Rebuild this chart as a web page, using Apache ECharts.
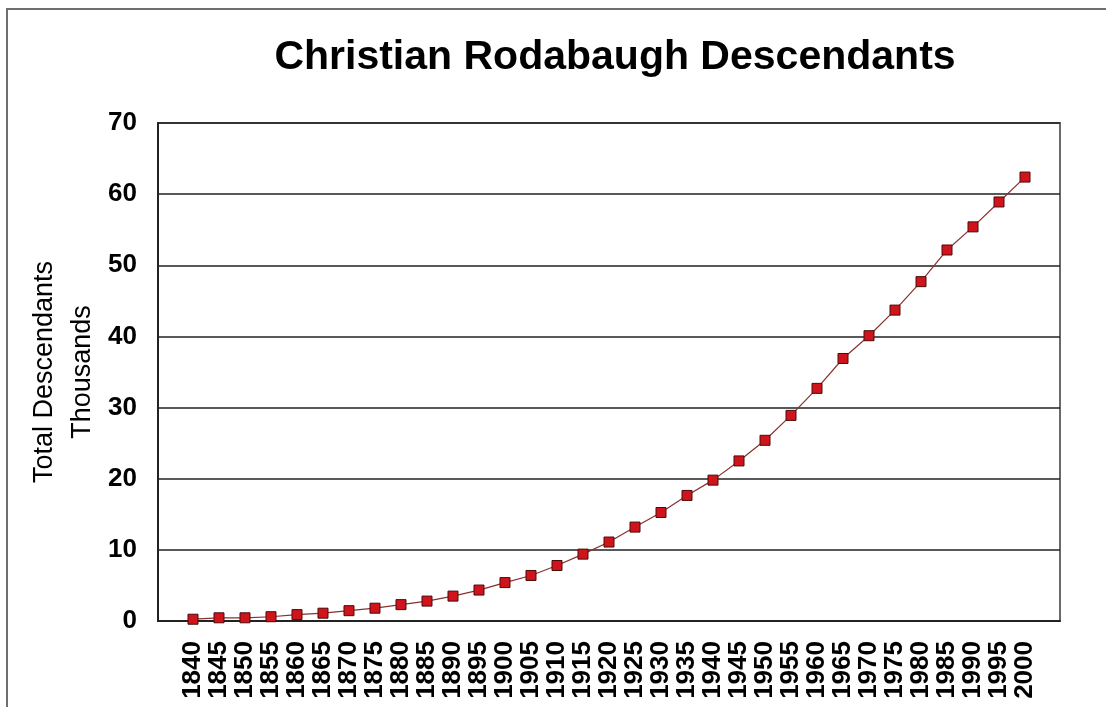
<!DOCTYPE html>
<html>
<head>
<meta charset="utf-8">
<script src="https://cdn.jsdelivr.net/npm/echarts@6/dist/echarts.min.js"></script>
<style>
  html, body { margin: 0; padding: 0; background: #fff; }
  #main { width: 1106px; height: 707px; }
</style>
</head>
<body>
<div id="main"></div>
<script>
window.addEventListener('load', () => {
    main()
})

// years on the x axis, 1840 to 2000 every 5 years
const years = [
    1840, 1845, 1850, 1855, 1860, 1865, 1870, 1875, 1880, 1885, 1890,
    1895, 1900, 1905, 1910, 1915, 1920, 1925, 1930, 1935, 1940, 1945,
    1950, 1955, 1960, 1965, 1970, 1975, 1980, 1985, 1990, 1995, 2000
]

// total descendants, in thousands
const totals = [
    0.25, 0.45, 0.45, 0.6, 0.9, 1.1, 1.45, 1.8, 2.3, 2.8, 3.5,
    4.35, 5.4, 6.4, 7.8, 9.4, 11.1, 13.2, 15.25, 17.65, 19.8, 22.5,
    25.4, 28.9, 32.7, 36.9, 40.1, 43.7, 47.7, 52.15, 55.4, 58.9, 62.4
]

const yTicks = [0, 10, 20, 30, 40, 50, 60, 70]

const FONT = '"Liberation Sans", Arial, sans-serif'

function main() {
    const chart = echarts.init(document.getElementById('main'), null, { renderer: 'canvas' })

    const option = {
        backgroundColor: '#fff',
        animation: false,
        title: {
            text: 'Christian Rodabaugh Descendants',
            left: 610,
            top: 32,
            textAlign: 'center',
            textStyle: {
                fontFamily: FONT,
                fontSize: 41,
                fontWeight: 'bold',
                color: '#000'
            }
        },
        // outer frame of the picture
        graphic: [{
            type: 'rect',
            shape: { x: 7, y: 9, width: 1200, height: 800 },
            style: { fill: 'none', stroke: '#6e6e6e', lineWidth: 2 },
            silent: true
        }],
        grid: {
            left: 158,
            top: 123,
            width: 902,
            height: 498,
            show: true,
            borderColor: '#6a6a6a',
            borderWidth: 2,
            backgroundColor: '#fff'
        },
        xAxis: {
            type: 'value',
            // the first and last points sit ~35px inside the frame
            min: 1833.27,
            max: 2006.73,
            splitLine: { show: false },
            axisTick: { show: false },
            axisLine: { show: true, onZero: false, lineStyle: { color: '#222', width: 2 } },
            axisLabel: {
                customValues: years,
                formatter: v => String(v),
                rotate: 90,
                margin: 20,
                fontFamily: FONT,
                fontSize: 26,
                fontWeight: 'bold',
                color: '#000',
                hideOverlap: false
            }
        },
        yAxis: {
            type: 'value',
            min: 0,
            max: 70,
            interval: 10,
            name: 'Total Descendants\nThousands',
            nameLocation: 'middle',
            nameGap: 56,
            nameMoveOverlap: false,
            nameRotate: 90,
            nameTextStyle: {
                fontFamily: FONT,
                fontSize: 27,
                color: '#000',
                lineHeight: 38
            },
            axisTick: { show: false },
            axisLine: { show: true, lineStyle: { color: '#222', width: 2 } },
            splitLine: { show: true, lineStyle: { color: '#222', width: 1.5 } },
            axisLabel: {
                customValues: yTicks,
                margin: 21,
                fontFamily: FONT,
                fontSize: 26,
                fontWeight: 'bold',
                color: '#000'
            }
        },
        series: [{
            name: 'Total Descendants',
            type: 'line',
            data: years.map((yr, i) => [yr, totals[i]]),
            symbol: 'rect',
            symbolSize: 10,
            itemStyle: {
                color: '#d0141c',
                borderColor: '#4a0a0a',
                borderWidth: 1
            },
            lineStyle: {
                color: '#8a3030',
                width: 1.2
            }
        }]
    }

    chart.setOption(option)
}
</script>
</body>
</html>
